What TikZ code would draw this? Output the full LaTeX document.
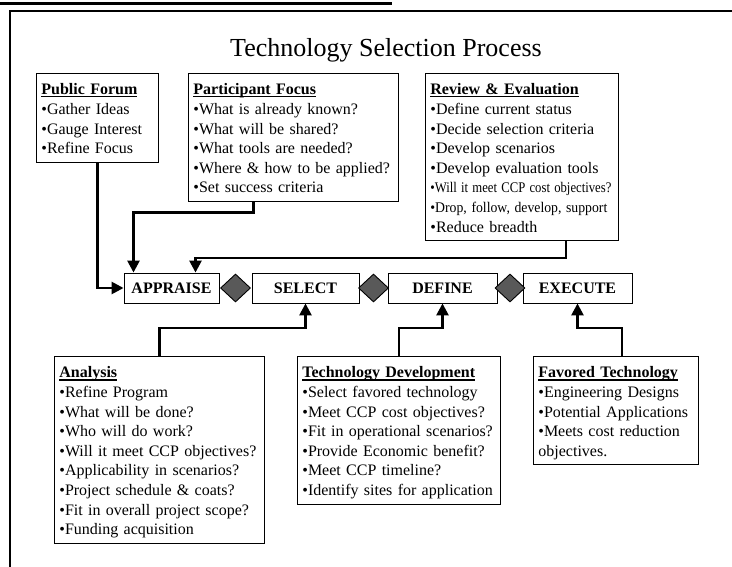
\documentclass[tikz,border=0pt]{standalone}
\usepackage{fontspec}
\usepackage{graphicx}
\setmainfont{Liberation Serif}
\usetikzlibrary{arrows.meta,shapes.geometric}
\newsavebox\headbox
\newcommand{\boxhead}[1]{\sbox\headbox{\textbf{#1}}\usebox\headbox\llap{\rule[-2.6pt]{\wd\headbox}{1.2pt}}}
\newcommand{\itm}{\textbullet}
\newcommand{\squeeze}[2]{\resizebox{#1}{0.92\height}{#2}}
\newcommand{\topstrut}{\rule{0pt}{19pt}}
\newcommand{\footstrut}{\rule[-6pt]{0pt}{6pt}}

\begin{document}
\begin{tikzpicture}[x=1pt,y=-1pt]
  \tikzstyle{infobox}=[draw,line width=0.8pt,anchor=north west,align=left,inner xsep=5pt,inner ysep=2.5pt,font=\fontsize{16}{19.6}\selectfont,execute at begin node=\topstrut,execute at end node=\footstrut]
  \tikzstyle{stage}=[draw,line width=0.9pt,minimum height=30pt,inner sep=0pt,font=\fontsize{16}{18}\selectfont\bfseries]
  \tikzstyle{gem}=[diamond,draw,line width=0.9pt,fill=black!65,inner sep=0pt,minimum width=30pt,minimum height=28pt]
  \tikzstyle{link}=[line width=2.6pt,-{Triangle[width=12pt,length=12pt]}]
  \useasboundingbox (0,0) rectangle (732,567);
  \draw[line width=3pt] (0,4) -- (392,4);
  \draw[line width=2pt] (10,567) -- (10,11) -- (732,11);
  \node (title) at (386,50) [font=\fontsize{26}{30}\selectfont] {Technology Selection Process};

  \node (forum) at (36,73) [infobox,text width=112pt] {\boxhead{Public Forum}\\
    \itm Gather Ideas\\
    \itm Gauge Interest\\
    \itm Refine Focus};
  \node (focus) at (188,73) [infobox,text width=200pt] {\boxhead{Participant Focus}\\
    \itm What is already known?\\
    \itm What will be shared?\\
    \itm What tools are needed?\\
    \itm Where \& how to be applied?\\
    \itm Set success criteria};
  \node (review) at (425,73) [infobox,text width=183pt] {\boxhead{Review \& Evaluation}\\
    \itm Define current status\\
    \itm Decide selection criteria\\
    \itm Develop scenarios\\
    \itm Develop evaluation tools\\
    \squeeze{181pt}{\itm Will it meet CCP cost objectives?}\\
    \squeeze{177pt}{\itm Drop, follow, develop, support}\\
    \itm Reduce breadth};

  \node (appraise) at (171.5,288) [stage,minimum width=95pt] {APPRAISE};
  \node (select) at (305.5,288) [stage,minimum width=107pt] {SELECT};
  \node (define) at (442.5,288) [stage,minimum width=109pt] {DEFINE};
  \node (execute) at (577.5,288) [stage,minimum width=109pt] {EXECUTE};
  \node (gem1) at (235.5,288) [gem] {};
  \node (gem2) at (373.5,288) [gem] {};
  \node (gem3) at (510,288) [gem] {};

  \node (analysis) at (54,356) [infobox,text width=200pt] {\boxhead{Analysis}\\
    \itm Refine Program\\
    \itm What will be done?\\
    \itm Who will do work?\\
    \itm Will it meet CCP objectives?\\
    \itm Applicability in scenarios?\\
    \itm Project schedule \& coats?\\
    \itm Fit in overall project scope?\\
    \itm Funding acquisition};
  \node (develop) at (297,356) [infobox,text width=193pt] {\boxhead{Technology Development}\\
    \itm Select favored technology\\
    \itm Meet CCP cost objectives?\\
    \itm Fit in operational scenarios?\\
    \itm Provide Economic benefit?\\
    \itm Meet CCP timeline?\\
    \itm Identify sites for application};
  \node (favored) at (533,356) [infobox,text width=155pt] {\boxhead{Favored Technology}\\
    \itm Engineering Designs\\
    \itm Potential Applications\\
    \itm Meets cost reduction\\
    objectives.};

  \draw[link] (forum) |- (appraise);
  \draw[link] ([xshift=-40pt]focus.south) -- ++(0,11) -| ([xshift=-38pt]appraise.north);
  \draw[link] ([xshift=44pt]review.south) -- ++(0,17) -| ([xshift=24pt]appraise.north);
  \draw[link] (analysis.north) -- ++(0,-28) -| (select.south);
  \draw[link] (develop.north) -- ++(0,-28) -| (define.south);
  \draw[link] ([xshift=6pt]favored.north) -- ++(0,-28) -| (execute.south);
\end{tikzpicture}
\end{document}
